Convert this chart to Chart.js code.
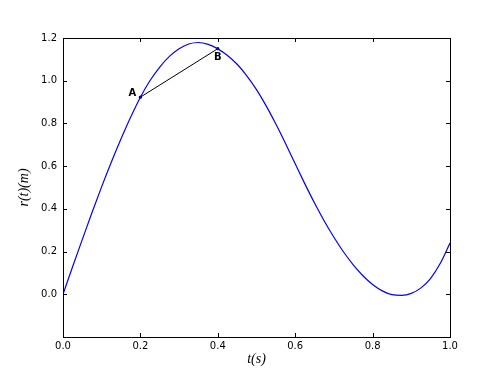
<!DOCTYPE html>
<html><head><meta charset="utf-8">
<script src="https://cdn.jsdelivr.net/npm/chart.js@4/dist/chart.umd.min.js"></script>
<style>html,body{margin:0;padding:0;background:#fff;}</style>
</head><body>
<canvas id="c" width="500" height="375" style="width:500px;height:375px;display:block"></canvas>
<script>
// ---- data ----
const tValues = [0.000,0.025,0.050,0.075,0.100,0.125,0.150,0.175,0.200,0.225,0.250,0.275,0.300,0.325,0.350,0.375,0.400,0.425,0.450,0.475,0.500,0.525,0.550,0.575,0.600,0.625,0.650,0.675,0.700,0.725,0.750,0.775,0.800,0.825,0.850,0.875,0.900,0.925,0.950,0.975,1.000];
const rValues = [0.000,0.130,0.257,0.383,0.504,0.619,0.728,0.830,0.923,1.001,1.064,1.114,1.150,1.172,1.179,1.170,1.149,1.118,1.077,1.023,0.958,0.882,0.797,0.706,0.611,0.517,0.427,0.343,0.267,0.198,0.138,0.087,0.046,0.016,-0.002,-0.005,0.004,0.030,0.075,0.145,0.240];
const segT = [0.2, 0.4];
const segR = [0.923, 1.150];
const segLabels = ['A', 'B'];
const xTicks = [0.0, 0.2, 0.4, 0.6, 0.8, 1.0];
const yTicks = [-0.2, 0.0, 0.2, 0.4, 0.6, 0.8, 1.0, 1.2];
const xTitle = 't(s)';
const yTitle = 'r(t)(m)';

const frame = {
  id: 'frame',
  afterDatasetsDraw(chart) {
    const {ctx, chartArea: a, scales: {x, y}} = chart;
    ctx.save();
    ctx.strokeStyle = '#000';
    ctx.lineWidth = 1;
    ctx.strokeRect(Math.round(a.left) + 0.5, Math.round(a.top) + 0.5, Math.round(a.right - a.left), Math.round(a.bottom - a.top));
    const L = 4;
    ctx.beginPath();
    x.ticks.forEach(t => {
      const px = Math.round(x.getPixelForValue(t.value)) + 0.5;
      ctx.moveTo(px, a.bottom); ctx.lineTo(px, a.bottom - L);
      ctx.moveTo(px, a.top); ctx.lineTo(px, a.top + L);
    });
    y.ticks.forEach(t => {
      const py = Math.round(y.getPixelForValue(t.value)) + 0.5;
      ctx.moveTo(a.left, py); ctx.lineTo(a.left + L, py);
      ctx.moveTo(a.right, py); ctx.lineTo(a.right - L, py);
    });
    ctx.stroke();
    // point labels
    ctx.fillStyle = '#000';
    ctx.font = 'bold 10px "DejaVu Sans"';
    ctx.textAlign = 'center';
    ctx.textBaseline = 'middle';
    const offs = [[-8, -4], [0, 9]];
    segLabels.forEach((lab, i) => {
      const px = x.getPixelForValue(segT[i]);
      const py = y.getPixelForValue(segR[i]);
      ctx.fillText(lab, px + offs[i][0], py + offs[i][1]);
    });
    ctx.restore();
  }
};

new Chart(document.getElementById('c'), {
  type: 'line',
  data: {
    datasets: [
      {
        data: tValues.map((t, i) => ({x: t, y: rValues[i]})),
        borderColor: '#0000ff',
        borderWidth: 1.2,
        pointRadius: 0,
        cubicInterpolationMode: 'monotone',
        fill: false
      },
      {
        data: segT.map((t, i) => ({x: t, y: segR[i]})),
        borderColor: '#000',
        borderWidth: 1,
        pointRadius: 1.6,
        pointBackgroundColor: '#000',
        pointBorderColor: '#000',
        pointBorderWidth: 0,
        tension: 0,
        fill: false
      }
    ]
  },
  options: {
    responsive: false,
    animation: false,
    devicePixelRatio: 1,
    layout: {padding: {left: 0, right: 50, top: 38, bottom: 0}},
    plugins: {legend: {display: false}, tooltip: {enabled: false}},
    scales: {
      x: {
        type: 'linear', min: 0, max: 1,
        afterBuildTicks: s => { s.ticks = xTicks.map(v => ({value: v})); },
        afterFit: s => { s.height = 38; },
        grid: {display: false, drawTicks: false},
        border: {display: true, color: '#000', width: 1},
        ticks: {padding: 3, color: '#000', font: {family: '"DejaVu Sans"', size: 10}, maxRotation: 0,
                callback: v => v.toFixed(1)},
        title: {display: true, text: xTitle, color: '#000', padding: {top: 0, bottom: 7},
                font: {family: '"Liberation Serif"', style: 'italic', size: 14}}
      },
      y: {
        type: 'linear', min: -0.2, max: 1.2,
        afterBuildTicks: s => { s.ticks = yTicks.map(v => ({value: v})); },
        afterFit: s => { s.width = 63; },
        grid: {display: false, drawTicks: false},
        border: {display: true, color: '#000', width: 1},
        ticks: {padding: 6, color: '#000', font: {family: '"DejaVu Sans"', size: 10},
                callback: v => (v < -0.1 ? '' : v.toFixed(1))},
        title: {display: true, text: yTitle, color: '#000', padding: {top: 16, bottom: 0},
                font: {family: '"Liberation Serif"', style: 'italic', size: 14}}
      }
    }
  },
  plugins: [frame]
});
</script>
</body></html>
